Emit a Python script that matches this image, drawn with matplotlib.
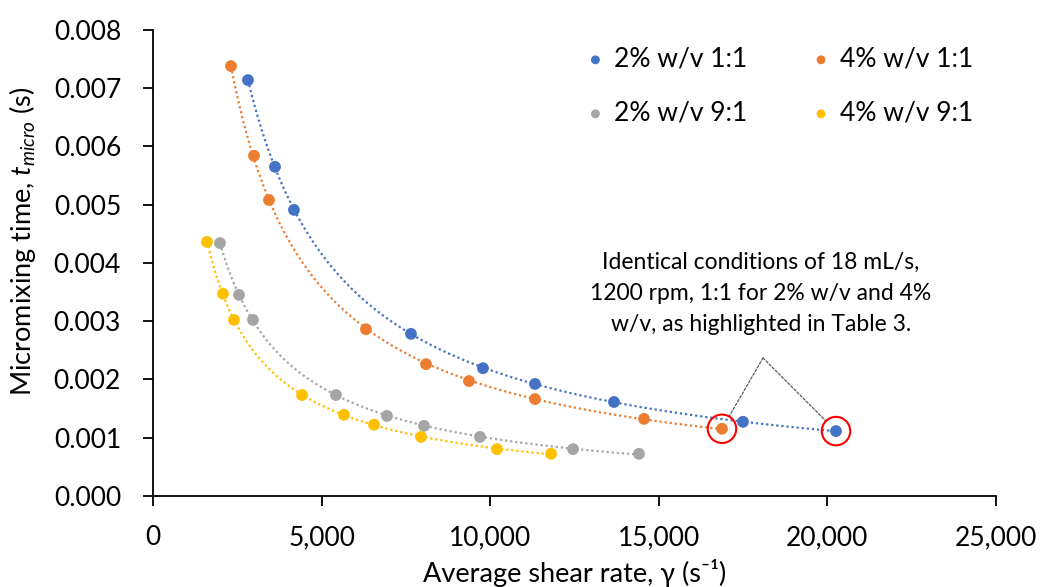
import numpy as np
import matplotlib
matplotlib.use("Agg")
import matplotlib.pyplot as plt
from matplotlib.ticker import FuncFormatter, MultipleLocator

plt.rcParams['font.family'] = ['Lato', 'DejaVu Sans']
plt.rcParams['mathtext.fontset'] = 'custom'
plt.rcParams['mathtext.rm'] = 'Lato'
plt.rcParams['mathtext.it'] = 'Lato:italic'

# ---------- data ----------
labels = ['2% w/v 1:1', '4% w/v 1:1', '2% w/v 9:1', '4% w/v 9:1']
colors = ['#4472C4', '#ED7D31', '#A5A5A5', '#FFC000']

shear_2_11 = [2817, 3618, 4181, 7651, 9786, 11329, 13671, 17497, 20255]
tmix_2_11 = [0.00714, 0.00565, 0.00491, 0.00278, 0.00219, 0.00192, 0.00161, 0.00127, 0.00111]

shear_4_11 = [2313, 2995, 3440, 6316, 8096, 9371, 11329, 14561, 16874]
tmix_4_11 = [0.00738, 0.00584, 0.00508, 0.00286, 0.00226, 0.00197, 0.00166, 0.00132, 0.00115]

shear_2_91 = [1987, 2550, 2966, 5427, 6940, 8037, 9698, 12456, 14413]
tmix_2_91 = [0.00434, 0.00345, 0.00302, 0.00173, 0.00137, 0.00120, 0.00101, 0.00080, 0.00072]

shear_4_91 = [1601, 2076, 2402, 4419, 5665, 6554, 7948, 10202, 11803]
tmix_4_91 = [0.00436, 0.00347, 0.00302, 0.00173, 0.00139, 0.00122, 0.00101, 0.00080, 0.00072]

series = [(shear_2_11, tmix_2_11), (shear_4_11, tmix_4_11),
          (shear_2_91, tmix_2_91), (shear_4_91, tmix_4_91)]

note = ('Identical conditions of 18 mL/s,\n1200 rpm, 1:1 for 2% w/v and 4%\n'
        'w/v, as highlighted in Table 3.')

# ---------- plotting ----------
fig = plt.figure(figsize=(10.4, 5.87), dpi=100)
ax = fig.add_axes([0.1471, 0.1555, 0.8106, 0.7934])

handles = []
for (x, y), c, lab in zip(series, colors, labels):
    x = np.array(x, float)
    y = np.array(y, float)
    # power trendline (Excel style)
    b, a = np.polyfit(np.log(x), np.log(y), 1)
    xf = np.linspace(x.min(), x.max(), 300)
    ax.plot(xf, np.exp(a) * xf ** b, ls=(0, (1, 1.3)), lw=1.6, color=c, zorder=2)
    handles.append(ax.scatter(x, y, s=72, color=c, edgecolors='none', zorder=3, label=lab))

# highlighted points (last of 2% 1:1 and 4% 1:1)
hx = [shear_4_11[-1], shear_2_11[-1]]
hy = [tmix_4_11[-1], tmix_2_11[-1]]
ax.scatter(hx, hy, s=420, facecolors='none', edgecolors='#FF0000', lw=1.5, zorder=4)

apex = (18090, 0.002366)
for px, py in zip(hx, hy):
    ax.annotate('', xy=(px, py), xytext=apex,
                arrowprops=dict(arrowstyle='-', color='#595959', lw=0.9, ls=(0, (2, 1.5)),
                                shrinkA=0, shrinkB=10.5))
ax.text(18030, 0.00347, note, ha='center', va='center', fontsize=16.5, linespacing=1.6)

# axes
ax.set_xlim(0, 25000)
ax.set_ylim(0, 0.008)
ax.xaxis.set_major_locator(MultipleLocator(5000))
ax.yaxis.set_major_locator(MultipleLocator(0.001))
ax.xaxis.set_major_formatter(FuncFormatter(lambda v, p: f'{v:,.0f}'))
ax.yaxis.set_major_formatter(FuncFormatter(lambda v, p: f'{v:.3f}'))
for s in ['top', 'right']:
    ax.spines[s].set_visible(False)
for s in ['left', 'bottom']:
    ax.spines[s].set_linewidth(1.3)
ax.tick_params(axis='both', direction='out', length=7, width=1.3, labelsize=19)
ax.tick_params(axis='y', pad=16)
ax.tick_params(axis='x', pad=14)

ax.set_xlabel('Average shear rate, γ (s⁻¹)', fontsize=19.5)
ax.set_ylabel('Micromixing time, $t_{micro}$ (s)', fontsize=19.5)
ax.xaxis.set_label_coords(0.5, -0.136)
ax.yaxis.set_label_coords(-0.136, 0.547)

order = [0, 2, 1, 3]
ax.legend([handles[i] for i in order], [labels[i] for i in order],
          ncol=2, loc='upper left', bbox_to_anchor=(0.481, 1.015), frameon=False,
          fontsize=19, markerscale=0.75, handletextpad=0.2, columnspacing=2.3,
          labelspacing=1.1, handlelength=1.0)

fig.savefig('out.png', dpi=100)
